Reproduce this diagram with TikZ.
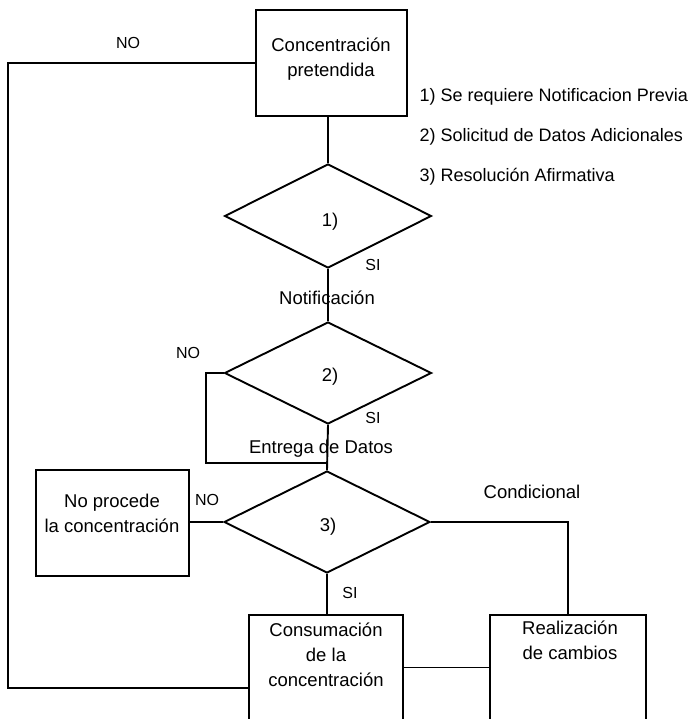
\documentclass[tikz,border=0pt]{standalone}
\usepackage{fontspec}
\setmainfont{Liberation Sans}
\usetikzlibrary{shapes.geometric,positioning}

\begin{document}
\begin{tikzpicture}[x=1pt,y=1pt,yscale=-1,xscale=1,
    line width=1.9pt,
    box/.style={draw,rectangle,inner sep=0pt},
    openbox/.style={rectangle,inner sep=0pt},
    cond/.style={draw,diamond,inner sep=0pt},
    txt/.style={inner sep=0.75pt,align=center,font=\fontsize{18.5}{25}\selectfont},
    lbl/.style={inner sep=0.75pt,font=\fontsize{16}{19}\selectfont},
    legend/.style={inner sep=0.75pt,anchor=west,font=\fontsize{18}{22}\selectfont}]
    \useasboundingbox (0,0) rectangle (691,719);

    %Shape: Rectangle [pretendida]
    \node [box,minimum width=151,minimum height=106] (pretend) at (331.5,63) {};
    %Shape: Diamond [1)]
    \node [cond,minimum width=207,minimum height=104] (q1) at (328,216) {};
    %Shape: Diamond [2)]
    \node [cond,minimum width=207,minimum height=102] (q2) at (328,373) {};
    %Shape: Diamond [3)]
    \node [cond,minimum width=206,minimum height=102] (q3) at (327,522) {};
    %Shape: Rectangle [no procede]
    \node [box,minimum width=153,minimum height=106] (noproc) at (112.5,523) {};
    %Shape: Open box [consumacion]
    \node [openbox,minimum width=152,minimum height=103] (consum) at (326,667.5) {};
    \draw (consum.south west) -- (consum.north west) -- (consum.north east) -- (consum.south east);
    %Shape: Open box [cambios]
    \node [openbox,minimum width=154,minimum height=103] (cambios) at (568,667.5) {};
    \draw (cambios.south west) -- (cambios.north west) -- (cambios.north east) -- (cambios.south east);

    \coordinate (back) at (328,463);
    \coordinate (corner) at (8,688);

    %Straight Lines
    \draw (pretend.south -| q1.north) -- (q1.north);
    \draw (q1.south) -- (q2.north);
    \draw (q2.south) -- (q3.north);
    \draw (q3.south) -- (q3.south |- consum.north);
    \draw (q2.west) -- ++(-18,0) |- (back);
    \draw (q3.west) -- (q3.west -| noproc.east);
    \draw (q3.east) -| (cambios.north);
    \draw (consum.east) -- (cambios.west);
    \draw (pretend.west) -| (corner) -- (corner -| consum.west);

    % Text Node
    \node [txt] (pretendtxt) at (331,59) {Concentración\\pretendida};
    % Text Node
    \node [txt] (q1txt) at (330,222) {1)};
    % Text Node
    \node [txt] (q2txt) at (330,377) {2)};
    % Text Node
    \node [txt] (q3txt) at (328,527) {3)};
    % Text Node
    \node [txt] (notif) at (327,298) {Notificación};
    % Text Node
    \node [txt] (entrega) at (321,449) {Entrega de Datos};
    % Text Node
    \node [txt] (noproctxt) at (112,513) {No procede\\la concentración};
    % Text Node
    \node [txt] (consumtxt) at (326,655) {Consumación\\de la\\concentración};
    % Text Node
    \node [txt] (cambiostxt) at (570,640) {Realización\\de cambios};
    % Text Node
    \node [txt] (condic) at (532,492) {Condicional};

    % Text Node
    \node [lbl] (no1) at (128,43) {NO};
    % Text Node
    \node [lbl] (no2) at (188,353) {NO};
    % Text Node
    \node [lbl] (no3) at (207,500) {NO};
    % Text Node
    \node [lbl] (si1) at (373,265) {SI};
    % Text Node
    \node [lbl] (si2) at (373,418) {SI};
    % Text Node
    \node [lbl] (si3) at (350,593) {SI};

    % Text Node
    \node [legend] (ley1) at (418,97) {1) Se requiere Notificacion Previa};
    % Text Node
    \node [legend] (ley2) at (418,137) {2) Solicitud de Datos Adicionales};
    % Text Node
    \node [legend] (ley3) at (418,177) {3) Resolución Afirmativa};
\end{tikzpicture}
\end{document}
